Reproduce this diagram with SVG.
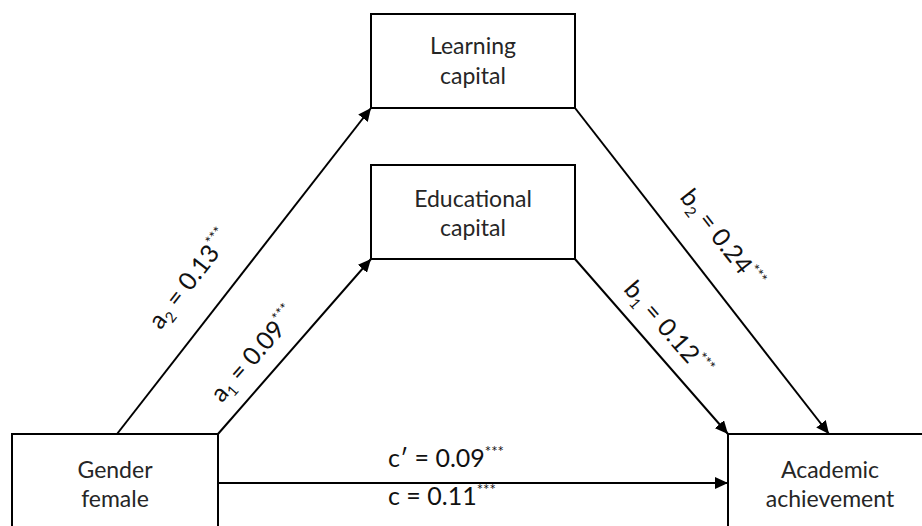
<svg xmlns="http://www.w3.org/2000/svg" width="922" height="526" viewBox="0 0 922 526">
  <defs>
    <marker id="arr" markerUnits="userSpaceOnUse" markerWidth="14" markerHeight="12" refX="13" refY="6" orient="auto">
      <path d="M0,0 L13,6 L0,12 Z" fill="#000"/>
    </marker>
    <style>
      .box { fill: #fff; stroke: #000; stroke-width: 2; }
      .node { font-family: Lato, "Liberation Sans", sans-serif; font-size: 23px; fill: #262626; text-anchor: middle; }
      .lbl { font-family: Lato, "Liberation Sans", sans-serif; font-size: 25px; fill: #111; }
      .sup { font-size: 15px; }
      .sub { font-size: 15px; }
      .edge { stroke: #000; stroke-width: 2; fill: none; marker-end: url(#arr); }
    </style>
  </defs>
  <rect width="922" height="526" fill="#fff"/>

  <g id="connectors">
    <line class="edge" x1="117" y1="434" x2="371" y2="108"/>
    <line class="edge" x1="218" y1="434" x2="371" y2="259"/>
    <line class="edge" x1="575" y1="108" x2="829" y2="434"/>
    <line class="edge" x1="575" y1="259" x2="728" y2="434"/>
    <line class="edge" x1="218" y1="483" x2="728" y2="483"/>
    <text class="lbl" transform="translate(191,280) rotate(-52.1)" text-anchor="middle" y="7">a<tspan class="sub" dy="5">2</tspan><tspan dy="-5"> = 0.13</tspan><tspan class="sup" dy="-10">***</tspan></text>
    <text class="lbl" transform="translate(255,355) rotate(-48.8)" text-anchor="middle" y="7">a<tspan class="sub" dy="5">1</tspan><tspan dy="-5"> = 0.09</tspan><tspan class="sup" dy="-10">***</tspan></text>
    <text class="lbl" transform="translate(721,240) rotate(52.1)" text-anchor="middle" y="7">b<tspan class="sub" dy="5">2</tspan><tspan dy="-5"> = 0.24</tspan><tspan class="sup" dy="-10">***</tspan></text>
    <text class="lbl" transform="translate(667,330) rotate(48.8)" text-anchor="middle" y="7">b<tspan class="sub" dy="5">1</tspan><tspan dy="-5"> = 0.12</tspan><tspan class="sup" dy="-10">***</tspan></text>
    <text class="lbl" x="388" y="467">c′ = 0.09<tspan class="sup" dy="-10">***</tspan></text>
    <text class="lbl" x="388" y="505">c = 0.11<tspan class="sup" dy="-10">***</tspan></text>
  </g>

  <g id="learning">
    <rect class="box" x="371" y="14" width="204" height="94"/>
    <text class="node" x="473" y="54">Learning</text>
    <text class="node" x="473" y="84">capital</text>
  </g>
  <g id="educational">
    <rect class="box" x="371" y="165" width="204" height="94"/>
    <text class="node" x="473" y="207">Educational</text>
    <text class="node" x="473" y="236">capital</text>
  </g>
  <g id="gender">
    <rect class="box" x="12" y="434" width="206" height="110"/>
    <text class="node" x="115" y="478">Gender</text>
    <text class="node" x="115" y="507">female</text>
  </g>
  <g id="achievement">
    <rect class="box" x="728" y="434" width="210" height="110"/>
    <text class="node" x="830" y="478">Academic</text>
    <text class="node" x="830" y="507">achievement</text>
  </g>
</svg>
